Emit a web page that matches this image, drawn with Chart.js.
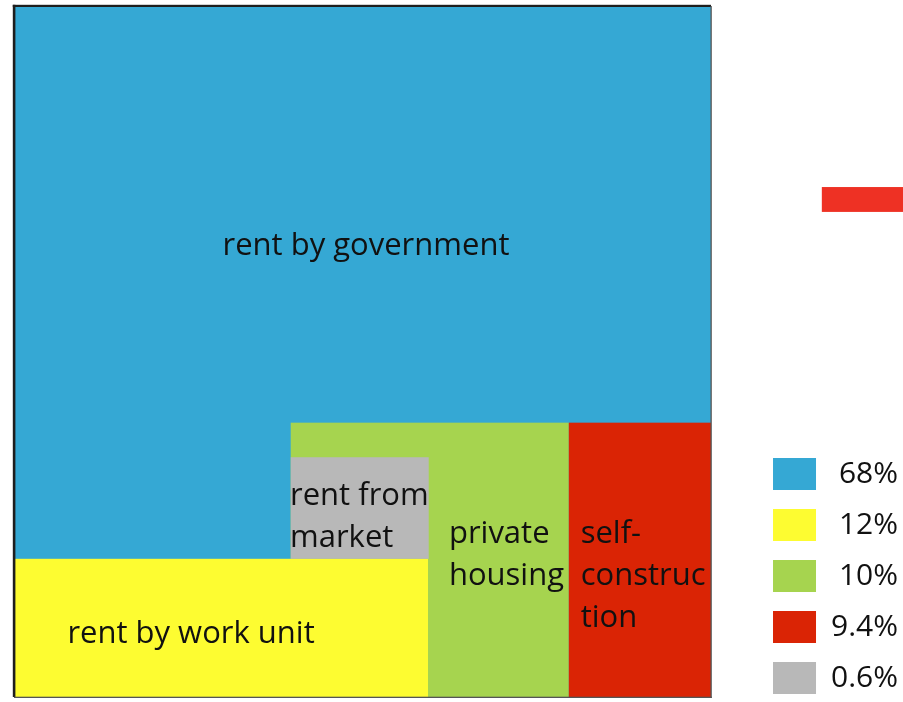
<!DOCTYPE html>
<html>
<head>
<meta charset="utf-8">
<script src="https://cdn.jsdelivr.net/npm/chart.js@4.4.1/dist/chart.umd.min.js"></script>
<style>
  html, body { margin: 0; padding: 0; background: #fff; }
</style>
</head>
<body>
<canvas id="chart" width="903" height="702"></canvas>
<script>
// housing source shares
const categories = ['rent by government', 'rent by work unit', 'private housing', 'self-construction', 'rent from market'];
const shares = [68, 12, 10, 9.4, 0.6];
const colours = ['#35a8d4', '#fdfc31', '#a6d44f', '#da2405', '#b8b8b8'];

// cell extents in frame units (0..100 both ways, y going up)
const cellX0 = [0, 0, 39.7, 79.6, 39.7];
const cellX1 = [100, 59.4, 79.6, 100, 59.5];
const cellY0 = [0, 0, 0, 0, 20.0];
const cellY1 = [100, 20.0, 39.7, 39.7, 34.7];
const drawOrder = [0, 2, 3, 1, 4]; // later ones sit on top

// text inside the cells, broken the way the source breaks it
const cellLines = [['rent by government'], ['rent by work unit'], ['private', 'housing'], ['self-', 'construc', 'tion'], ['rent from', 'market']];
const labelX = [50.5, 25.4, 62.4, 81.3, 39.6];
const labelY = [64.0, 7.8, 22.3, 22.3, 27.8];   // first baseline
const labelAlign = ['center', 'center', 'left', 'left', 'left'];
const lineStep = 6.08;

// the odd red bar at top right
const strayX = [115.9, 130];
const strayY = [70.2, 73.8];

// where the frame sits on the page
const FRAME = { left: 14, right: 711, top: 6, bottom: 697 };

const cellsPlugin = {
  id: 'cells',
  beforeDatasetsDraw(chart) {
    const { ctx, scales: { x, y } } = chart;
    ctx.save();
    drawOrder.forEach(i => {
      const l = x.getPixelForValue(cellX0[i]), r = x.getPixelForValue(cellX1[i]);
      const t = y.getPixelForValue(cellY1[i]), b = y.getPixelForValue(cellY0[i]);
      ctx.fillStyle = colours[i];
      ctx.fillRect(l, t, r - l, b - t);
    });

    // frame: heavy on left/top, thin on right/bottom
    const fl = x.getPixelForValue(0), fr = x.getPixelForValue(100);
    const ft = y.getPixelForValue(100), fb = y.getPixelForValue(0);
    ctx.fillStyle = '#1e1e1e';
    ctx.fillRect(fl - 1.2, ft - 1.2, 2.6, fb - ft + 1.2);
    ctx.fillRect(fl - 1.2, ft - 1.2, fr - fl + 1.2, 2.2);
    ctx.fillStyle = '#555';
    ctx.fillRect(fr - 0.5, ft, 1.3, fb - ft + 1);
    ctx.fillRect(fl, fb - 0.3, fr - fl + 0.8, 1.3);

    ctx.fillStyle = '#111';
    ctx.font = '31px "Open Sans"';
    ctx.textBaseline = 'alphabetic';
    cellLines.forEach((lines, i) => {
      ctx.textAlign = labelAlign[i];
      lines.forEach((txt, k) => {
        ctx.fillText(txt, x.getPixelForValue(labelX[i]), y.getPixelForValue(labelY[i] - k * lineStep));
      });
    });

    const sl = x.getPixelForValue(strayX[0]), sr = x.getPixelForValue(strayX[1]);
    const st = y.getPixelForValue(strayY[1]), sb = y.getPixelForValue(strayY[0]);
    ctx.fillStyle = '#ee3124';
    ctx.fillRect(sl, st, sr - sl, sb - st);
    ctx.restore();
  }
};

// pad the two-digit shares with a period-wide space so the column lines up on the right
const shareText = shares.map(v => (String(v).includes('.') ? '' : '\u2008') + v + '%');

const chart = new Chart(document.getElementById('chart'), {
  type: 'scatter',
  data: {
    datasets: categories.map((c, i) => ({
      label: shareText[i],
      data: [],
      backgroundColor: colours[i],
      borderColor: colours[i],
      borderWidth: 0
    }))
  },
  options: {
    responsive: false,
    animation: false,
    layout: { padding: { left: 0, top: 0, right: -5, bottom: -11 } },
    scales: {
      x: { type: 'linear', display: false, min: 0, max: 100 },
      y: { type: 'linear', display: false, min: 0, max: 100 }
    },
    plugins: {
      legend: {
        position: 'right',
        align: 'end',
        labels: {
          boxWidth: 43,
          boxHeight: 32,
          padding: 19,
          color: '#111',
          font: { family: 'Open Sans', size: 30 }
        }
      },
      tooltip: { enabled: false }
    }
  },
  plugins: [cellsPlugin]
});

// stretch the hidden scales so the 0..100 frame lands where it sits in the source
function fitFrame(ch) {
  const a = ch.chartArea;
  const xs = 100 / (FRAME.right - FRAME.left);
  const ys = 100 / (FRAME.bottom - FRAME.top);
  ch.options.scales.x.min = (a.left - FRAME.left) * xs;
  ch.options.scales.x.max = (a.right - FRAME.left) * xs;
  ch.options.scales.y.min = (FRAME.bottom - a.bottom) * ys;
  ch.options.scales.y.max = (FRAME.bottom - a.top) * ys;
  ch.update('none');
}
fitFrame(chart);
</script>
</body>
</html>
